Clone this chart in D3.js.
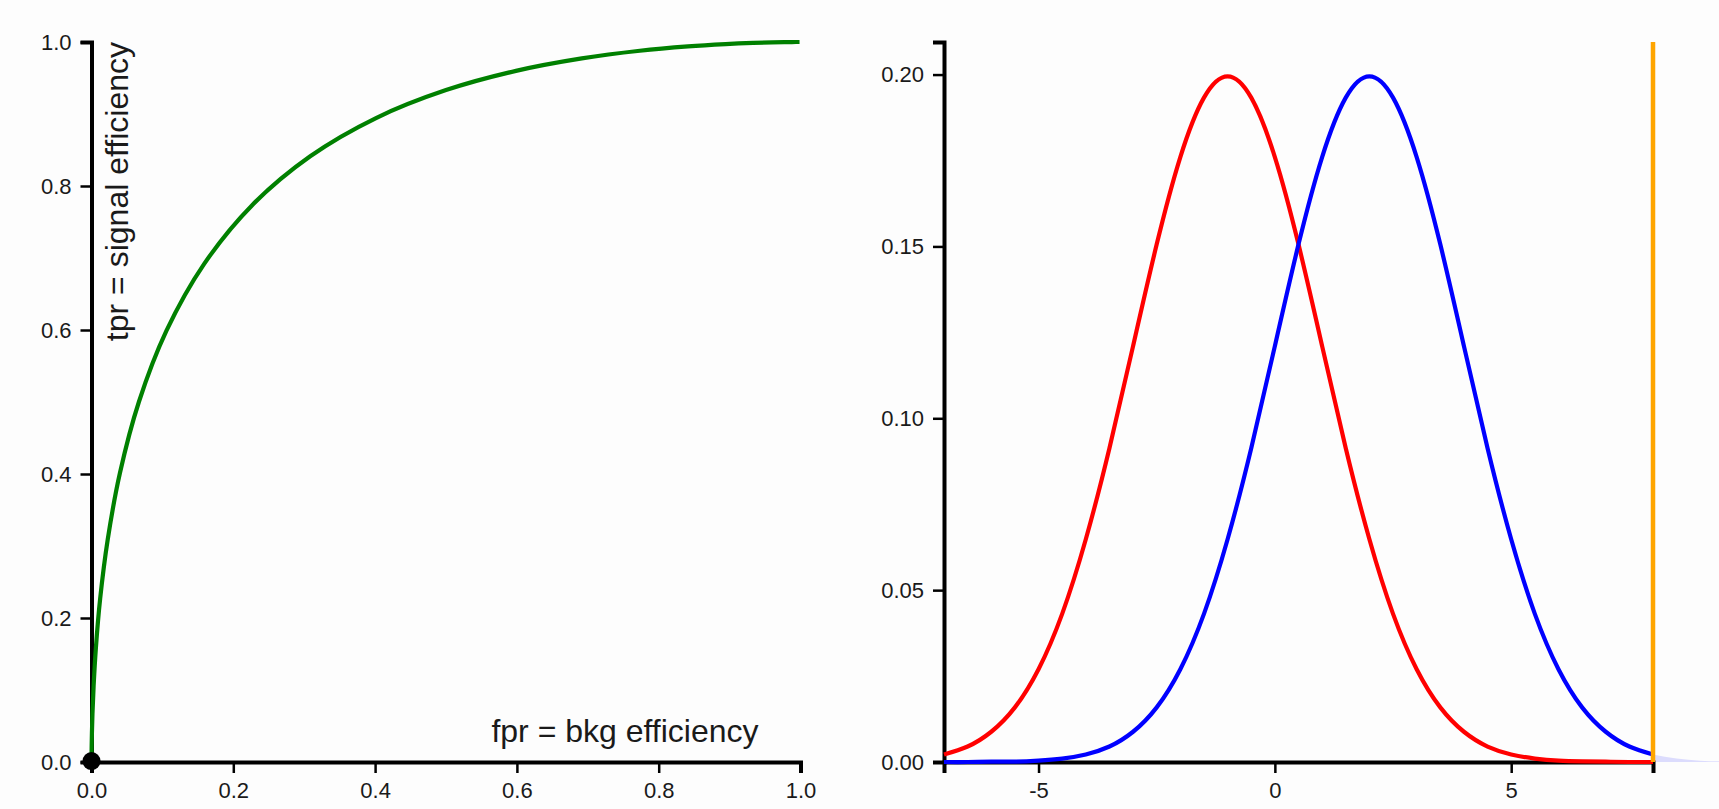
<!DOCTYPE html>
<html>
<head>
<meta charset="utf-8">
<script src="https://cdn.jsdelivr.net/npm/d3@7"></script>
<style>
    body { margin: 0; background: #fdfdfd; }
    svg { display: block; font-family: "Liberation Sans", Arial, Helvetica, sans-serif; }
</style>
</head>
<body>
<svg id="chart"></svg>
<script>
// distributions (right panel): x grid and the two densities
const xs = [-7, -6.5, -6, -5.5, -5, -4.5, -4, -3.5, -3, -2.5, -2, -1.5, -1, -0.5, 0, 0.5, 1, 1.5, 2,
    2.5, 3, 3.5, 4, 4.5, 5, 5.5, 6, 6.5, 7, 7.5, 8, 8.5, 9, 9.5, 10];
const bkgDensity = [0.0022, 0.0045, 0.0088, 0.0159, 0.0270, 0.0431, 0.0648, 0.0913, 0.1210, 0.1506, 0.1760,
    0.1933, 0.1995, 0.1933, 0.1760, 0.1506, 0.1210, 0.0913, 0.0648, 0.0431, 0.0270, 0.0159, 0.0088, 0.0045,
    0.0022, 0.0010, 0.0004, 0.0002, 0.0001, 0, 0, 0, 0, 0, 0];
const sigDensity = [0, 0, 0.0001, 0.0001, 0.0004, 0.0010, 0.0022, 0.0045, 0.0088, 0.0159, 0.0270, 0.0431,
    0.0648, 0.0913, 0.1210, 0.1506, 0.1760, 0.1933, 0.1995, 0.1933, 0.1760, 0.1506, 0.1210, 0.0913, 0.0648,
    0.0431, 0.0270, 0.0159, 0.0088, 0.0045, 0.0022, 0.0010, 0.0004, 0.0002, 0.0001];
const threshold = 8;

// ROC curve (left panel), one point per threshold
const rocThresholds = [8, 7.5, 7, 6.5, 6, 5.5, 5, 4.5, 4, 3.5, 3, 2.5, 2, 1.5, 1, 0.5, 0, -0.5, -1,
    -1.5, -2, -2.5, -3, -3.5, -4, -4.5, -5, -5.5, -6, -6.5, -7];
const fpr = [0.000003, 0.00001, 0.00003, 0.00009, 0.00023, 0.00058, 0.00135, 0.0030, 0.0062, 0.0122, 0.0228,
    0.0401, 0.0668, 0.1056, 0.1587, 0.2266, 0.3085, 0.4013, 0.5, 0.5987, 0.6915, 0.7734, 0.8413, 0.8944,
    0.9332, 0.9599, 0.9772, 0.9878, 0.9938, 0.9970, 0.99865];
const tpr = [0.00135, 0.0030, 0.0062, 0.0122, 0.0228, 0.0401, 0.0668, 0.1056, 0.1587, 0.2266, 0.3085,
    0.4013, 0.5, 0.5987, 0.6915, 0.7734, 0.8413, 0.8944, 0.9332, 0.9599, 0.9772, 0.9878, 0.9938, 0.9970,
    0.99865, 0.99942, 0.99977, 0.99991, 0.99997, 0.99999, 1.0];

const W = 1719, H = 809;
const plotW = 709, plotH = 720;
const marginTop = 42;

const svg = d3.select('#chart').attr('width', W).attr('height', H);

function styleAxis(g) {
    g.select('.domain')
        .attr('fill', 'none')
        .attr('stroke', '#000')
        .attr('stroke-width', 4);
    g.selectAll('.tick line')
        .attr('stroke', '#000')
        .attr('stroke-width', 2.5);
    g.selectAll('.tick text')
        .attr('font-size', 22)
        .attr('font-family', '"Liberation Sans", Arial, Helvetica, sans-serif')
        .attr('fill', '#1a1a1a');
}

// ---------- left: ROC ----------
const left = svg.append('g').attr('transform', `translate(91.5,${marginTop})`);

const xRoc = d3.scaleLinear().domain([0, 1]).range([0, plotW]);
const yRoc = d3.scaleLinear().domain([0, 1]).range([plotH, 0]);

left.append('g')
    .attr('transform', `translate(0,${plotH})`)
    .call(d3.axisBottom(xRoc).ticks(5).tickFormat(d3.format('.1f')).tickSize(11).tickPadding(9))
    .call(styleAxis);

left.append('g')
    .call(d3.axisLeft(yRoc).ticks(5).tickFormat(d3.format('.1f')).tickSize(11).tickPadding(9))
    .call(styleAxis);

const rocPoints = fpr.map((f, i) => ({ fpr: f, tpr: tpr[i], t: rocThresholds[i] }));

left.append('path')
    .datum(rocPoints)
    .attr('fill', 'none')
    .attr('stroke', 'green')
    .attr('stroke-width', 4.2)
    .attr('d', d3.line()
        .x(d => xRoc(d.fpr))
        .y(d => yRoc(d.tpr))
        .curve(d3.curveCatmullRom));

const current = rocPoints.find(d => d.t === threshold);
left.append('circle')
    .attr('cx', xRoc(current.fpr))
    .attr('cy', yRoc(current.tpr))
    .attr('r', 9)
    .attr('fill', '#000');

left.append('text')
    .attr('x', plotW - 42)
    .attr('y', plotH - 20)
    .attr('text-anchor', 'end')
    .attr('font-size', '32px')
    .attr('fill', '#1a1a1a')
    .text('fpr = bkg efficiency');

left.append('text')
    .attr('transform', 'rotate(-90)')
    .attr('x', 0)
    .attr('y', 36)
    .attr('text-anchor', 'end')
    .attr('font-size', '32px')
    .attr('fill', '#1a1a1a')
    .text('tpr = signal efficiency');

// ---------- right: distributions ----------
const right = svg.append('g').attr('transform', `translate(944,${marginTop})`);

const maxDensity = d3.max(sigDensity.concat(bkgDensity));
const xDist = d3.scaleLinear().domain([-7, 8]).range([0, plotW]);
const yDist = d3.scaleLinear().domain([0, maxDensity * 1.05]).range([plotH, 0]);

right.append('g')
    .attr('transform', `translate(0,${plotH})`)
    .call(d3.axisBottom(xDist).tickValues([-5, 0, 5]).tickFormat(d => String(d)).tickSize(11).tickPadding(9))
    .call(styleAxis);

right.append('g')
    .call(d3.axisLeft(yDist).ticks(5).tickFormat(d3.format('.2f')).tickSize(11).tickPadding(9))
    .call(styleAxis);

const series = [
    { name: 'bkg', color: 'red', values: bkgDensity },
    { name: 'sig', color: 'blue', values: sigDensity }
];

const area = d3.area()
    .x(d => xDist(d.x))
    .y0(yDist(0))
    .y1(d => yDist(d.y))
    .curve(d3.curveMonotoneX);

const line = d3.line()
    .x(d => xDist(d.x))
    .y(d => yDist(d.y))
    .curve(d3.curveNatural);

series.forEach(s => {
    const pts = xs.map((x, i) => ({ x: x, y: s.values[i] }));
    // shaded tail beyond the cut
    right.append('path')
        .datum(pts.filter(d => d.x >= threshold))
        .attr('fill', s.color)
        .attr('fill-opacity', 0.13)
        .attr('d', area);
});

series.forEach(s => {
    const pts = xs.map((x, i) => ({ x: x, y: s.values[i] }));
    right.append('path')
        .datum(pts.filter(d => d.x <= threshold))
        .attr('fill', 'none')
        .attr('stroke', s.color)
        .attr('stroke-width', 4.2)
        .attr('d', line);
});

right.append('line')
    .attr('x1', xDist(threshold))
    .attr('x2', xDist(threshold))
    .attr('y1', yDist(0))
    .attr('y2', 0)
    .attr('stroke', 'orange')
    .attr('stroke-width', 4.5);
</script>
</body>
</html>
